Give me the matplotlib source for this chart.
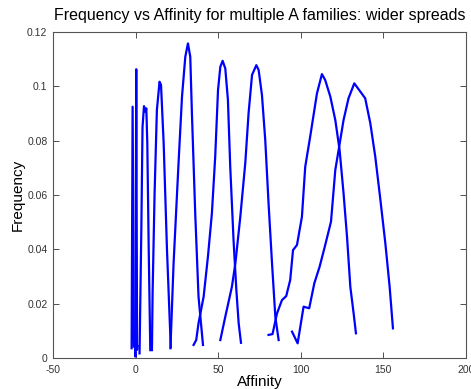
import matplotlib
matplotlib.use('Agg')
import matplotlib.pyplot as plt

plt.rcParams['font.family'] = ['Liberation Sans', 'DejaVu Sans']

# affinity / frequency for each A family
fam1_x = [-2.4, -1.8, -1.0]
fam1_y = [0.0036, 0.0925, 0.0042]
fam2_x = [-0.3, -0.1, 0.4, 0.9, 1.2]
fam2_y = [0.0040, 0.0005, 0.1063, 0.0030, 0.0044]
fam3_x = [2.4, 3.5, 4.2, 5.1, 5.9, 6.5, 7.1, 7.9, 8.9]
fam3_y = [0.0017, 0.0483, 0.0850, 0.0927, 0.0907, 0.0919, 0.0790, 0.0422, 0.0029]
fam4_x = [9.9, 10.3, 11.5, 12.9, 14.5, 15.4, 17.0, 19.0, 21.3]
fam4_y = [0.0029, 0.0238, 0.0606, 0.0913, 0.1017, 0.1005, 0.0790, 0.0400, 0.0040]
fam5_x = [21.1, 23.0, 26.0, 28.1, 30.1, 31.7, 33.1, 34.1, 36.1, 38.1, 40.8]
fam5_y = [0.0036, 0.0348, 0.0717, 0.0962, 0.1109, 0.1158, 0.1109, 0.0901, 0.0533, 0.0226, 0.0048]
fam6_x = [35.1, 36.7, 38.1, 41.2, 43.8, 46.2, 48.2, 49.9, 51.3, 52.7, 54.3,
          55.9, 57.3, 59.3, 61.0, 62.4, 63.8]
fam6_y = [0.0048, 0.0066, 0.0128, 0.0226, 0.0373, 0.0533, 0.0741, 0.0986, 0.1072, 0.1094, 0.1066,
          0.0950, 0.0704, 0.0434, 0.0250, 0.0128, 0.0056]
fam7_x = [51.3, 54.3, 58.3, 60.4, 63.4, 66.4, 68.4, 70.5, 73.1, 74.5, 76.5,
          78.5, 80.5, 82.6, 84.6, 86.6]
fam7_y = [0.0066, 0.0152, 0.0262, 0.0348, 0.0520, 0.0717, 0.0901, 0.1042, 0.1078, 0.1060, 0.0968,
          0.0802, 0.0569, 0.0348, 0.0152, 0.0066]
fam8_x = [80.5, 82.9, 85.6, 88.6, 91.2, 93.6, 95.3, 97.7, 100.7, 102.7, 105.7, 109.8,
          112.8, 114.8, 117.9, 120.9, 123.5, 125.9, 128.0, 130.0, 132.0, 133.4]
fam8_y = [0.0085, 0.0088, 0.0164, 0.0213, 0.0228, 0.0287, 0.0397, 0.0416, 0.0520, 0.0704, 0.0815, 0.0974,
          0.1045, 0.1023, 0.0962, 0.0876, 0.0766, 0.0606, 0.0446, 0.0262, 0.0164, 0.0091]
fam9_x = [94.7, 98.1, 101.7, 105.1, 108.2, 111.4, 114.8, 118.3, 120.9, 123.9, 125.9,
          128.9, 132.4, 139.0, 142.1, 145.1, 148.2, 151.2, 153.8, 155.8]
fam9_y = [0.0097, 0.0054, 0.0189, 0.0183, 0.0275, 0.0336, 0.0416, 0.0502, 0.0692, 0.0802, 0.0876,
          0.0956, 0.1011, 0.0956, 0.0864, 0.0741, 0.0582, 0.0422, 0.0262, 0.0109]

families = [(fam1_x, fam1_y), (fam2_x, fam2_y), (fam3_x, fam3_y), (fam4_x, fam4_y),
            (fam5_x, fam5_y), (fam6_x, fam6_y), (fam7_x, fam7_y), (fam8_x, fam8_y),
            (fam9_x, fam9_y)]

xticks = [-50, 0, 50, 100, 150, 200]
yticks = [0, 0.02, 0.04, 0.06, 0.08, 0.1, 0.12]
ytick_labels = ['0', '0.02', '0.04', '0.06', '0.08', '0.1', '0.12']

fig = plt.figure(figsize=(4.71, 3.89), dpi=100)
ax = fig.add_axes([0.1125, 0.0797, 0.8768, 0.838])

for fx, fy in families:
    ax.plot(fx, fy, color='#0000ff', linewidth=1.6)

ax.set_xlim(-50, 200)
ax.set_ylim(0, 0.12)
ax.set_xticks(xticks)
ax.set_xticklabels([str(t) for t in xticks])
ax.set_yticks(yticks)
ax.set_yticklabels(ytick_labels)
ax.tick_params(direction='in', length=4, width=0.6, colors='#333333', labelsize=7.5,
               top=True, right=True)
ax.tick_params(axis='x', pad=5)
ax.tick_params(axis='y', pad=4)
for sp in ax.spines.values():
    sp.set_color('#555555')
    sp.set_linewidth(0.8)

ax.set_title('Frequency vs Affinity for multiple A families: wider spreads', fontsize=11.5, pad=9)
ax.set_xlabel('Affinity', fontsize=11, labelpad=0)
ax.set_ylabel('Frequency', fontsize=11, labelpad=2)

fig.savefig('out.png', dpi=100)
